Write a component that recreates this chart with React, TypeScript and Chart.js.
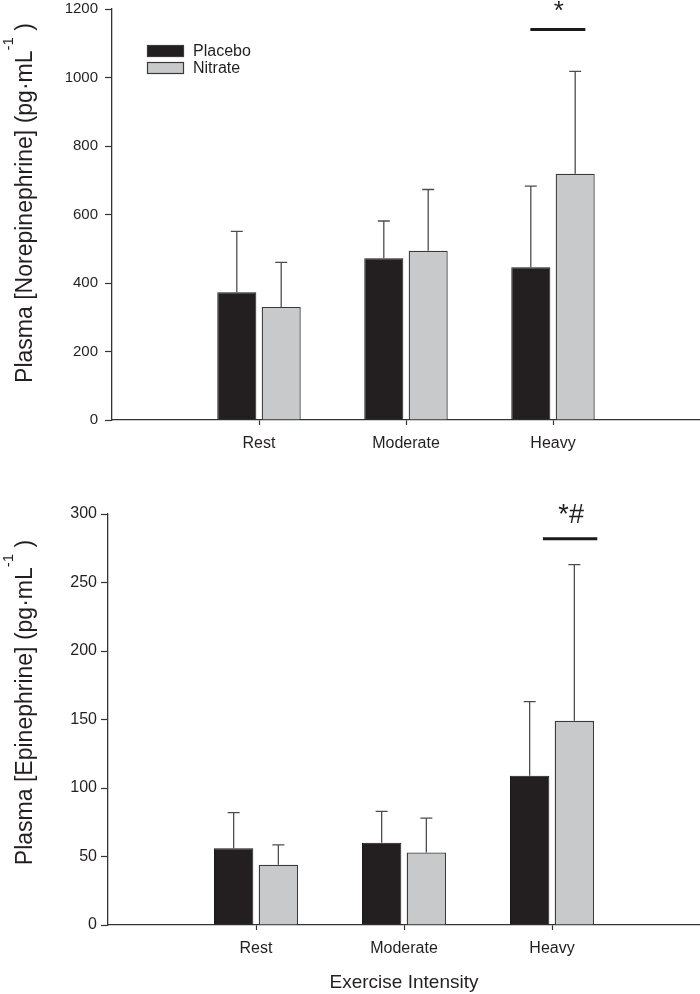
import React, { useEffect, useRef } from 'react';
import { Chart, registerables } from 'chart.js';

Chart.register(...registerables);

// ---------- data ----------
const categories = ['', 'Rest', 'Moderate', 'Heavy', ''];
const seriesNames = ['Placebo', 'Nitrate'];

const norepiPlacebo = [373, 472, 446];
const norepiPlaceboSD = [178, 109, 237];
const norepiNitrate = [330, 494, 719];
const norepiNitrateSD = [130, 179, 299];
const norepiTicks = [0, 200, 400, 600, 800, 1000, 1200];

const epiPlacebo = [56, 60, 109];
const epiPlaceboSD = [26, 23, 54];
const epiNitrate = [44, 53, 149];
const epiNitrateSD = [14.5, 25, 114];
const epiTicks = [0, 50, 100, 150, 200, 250, 300];

const FONT = "'Liberation Sans', Arial, Helvetica, sans-serif";
const TEXT = '#231f20';
const AXIS = '#333333';
const PLACEBO_COLOR = '#231f20';
const NITRATE_COLOR = '#c8c9cb';

const pad = (arr: (number | null)[]) => [null, ...arr, null];

// ---------- plugins ----------
const errorBarPlugin = {
  id: 'errorBars',
  afterDatasetsDraw(chart: any) {
    const { ctx } = chart;
    const yScale = chart.scales.y;
    chart.data.datasets.forEach((ds: any, di: number) => {
      const meta = chart.getDatasetMeta(di);
      if (!ds.errors) return;
      meta.data.forEach((bar: any, i: number) => {
        const v = ds.data[i];
        const e = ds.errors[i];
        if (v == null || e == null) return;
        const x = bar.x;
        const yTop = yScale.getPixelForValue(v + e);
        ctx.save();
        ctx.strokeStyle = '#4d4d4d';
        ctx.lineWidth = 1.3;
        ctx.beginPath();
        ctx.moveTo(x, bar.y);
        ctx.lineTo(x, yTop);
        ctx.moveTo(x - 6, yTop);
        ctx.lineTo(x + 6, yTop);
        ctx.stroke();
        ctx.restore();
      });
    });
  },
};

const legendPlugin = {
  id: 'boxLegend',
  afterDraw(chart: any, _args: any, opts: any) {
    if (!opts || !opts.show) return;
    const { ctx } = chart;
    ctx.save();
    chart.data.datasets.forEach((ds: any, i: number) => {
      const y = opts.y + i * opts.step;
      ctx.fillStyle = ds.backgroundColor;
      ctx.fillRect(opts.x, y, opts.boxW, opts.boxH);
      ctx.strokeStyle = '#3a3a3a';
      ctx.lineWidth = 1.2;
      ctx.strokeRect(opts.x + 0.5, y + 0.5, opts.boxW - 1, opts.boxH - 1);
      ctx.fillStyle = TEXT;
      ctx.font = `${opts.size}px ${FONT}`;
      ctx.textBaseline = 'middle';
      ctx.textAlign = 'left';
      ctx.fillText(ds.label, opts.x + opts.boxW + opts.textGap, y + opts.boxH / 2 + 1);
    });
    ctx.restore();
  },
};

const yTitlePlugin = {
  id: 'yTitleSup',
  afterDraw(chart: any, _args: any, opts: any) {
    if (!opts || !opts.main) return;
    const { ctx, chartArea } = chart;
    ctx.save();
    const mainFont = `${opts.size}px ${FONT}`;
    const supFont = `${opts.supSize}px ${FONT}`;
    ctx.font = mainFont;
    const w1 = ctx.measureText(opts.main).width;
    const w3 = ctx.measureText(opts.tail).width;
    ctx.font = supFont;
    const w2 = ctx.measureText(opts.sup).width;
    const total = w1 + w2 + w3;
    const cy = (chartArea.top + chartArea.bottom) / 2 + opts.shift;
    ctx.translate(opts.x, cy);
    ctx.rotate(-Math.PI / 2);
    ctx.fillStyle = TEXT;
    ctx.textAlign = 'left';
    ctx.textBaseline = 'alphabetic';
    let x = -total / 2;
    ctx.font = mainFont;
    ctx.fillText(opts.main, x, 0);
    x += w1;
    ctx.font = supFont;
    ctx.fillText(opts.sup, x, -opts.raise);
    x += w2;
    ctx.font = mainFont;
    ctx.fillText(opts.tail, x, 0);
    ctx.restore();
  },
};

const sigPlugin = {
  id: 'sigMark',
  afterDraw(chart: any, _args: any, opts: any) {
    if (!opts || opts.value == null) return;
    const { ctx } = chart;
    const xs = chart.scales.x;
    const ys = chart.scales.y;
    const unit = xs.getPixelForValue(1) - xs.getPixelForValue(0);
    const cx = xs.getPixelForValue(opts.index);
    const x0 = cx + opts.from * unit;
    const x1 = cx + opts.to * unit;
    const y = ys.getPixelForValue(opts.value);
    ctx.save();
    ctx.strokeStyle = '#1a1a1a';
    ctx.lineWidth = 3;
    ctx.beginPath();
    ctx.moveTo(x0, y);
    ctx.lineTo(x1, y);
    ctx.stroke();
    ctx.fillStyle = TEXT;
    ctx.font = `${opts.size}px ${FONT}`;
    ctx.textAlign = 'center';
    ctx.textBaseline = 'alphabetic';
    ctx.fillText(opts.text, (x0 + x1) / 2 + (opts.dx || 0), y - opts.gap);
    ctx.restore();
  },
};

// ---------- config ----------
function makeConfig(p: any) {
  return {
    type: 'bar',
    data: {
      labels: categories,
      datasets: [
        {
          label: seriesNames[0],
          data: pad(p.placebo),
          errors: pad(p.placeboSD),
          backgroundColor: PLACEBO_COLOR,
          borderColor: '#1a1a1a',
          borderWidth: 1,
          categoryPercentage: 0.604,
          barPercentage: 0.88,
        },
        {
          label: seriesNames[1],
          data: pad(p.nitrate),
          errors: pad(p.nitrateSD),
          backgroundColor: NITRATE_COLOR,
          borderColor: '#3a3a3a',
          borderWidth: 1.3,
          categoryPercentage: 0.604,
          barPercentage: 0.88,
        },
      ],
    },
    options: {
      responsive: false,
      maintainAspectRatio: false,
      animation: false,
      layout: { padding: { left: 0, right: 0, top: p.top, bottom: 0 } },
      plugins: {
        legend: { display: false },
        tooltip: { enabled: false },
        title: { display: false },
        boxLegend: p.legend,
        yTitleSup: p.yTitle,
        sigMark: p.sig,
      },
      scales: {
        x: {
          type: 'category',
          offset: false,
          grid: {
            offset: false,
            drawOnChartArea: false,
            drawTicks: true,
            tickLength: 5,
            tickWidth: 1.2,
            tickColor: (c: any) => (c.index === 0 || c.index === categories.length - 1 ? 'rgba(0,0,0,0)' : AXIS),
          },
          border: { display: true, color: AXIS, width: 1.3 },
          ticks: {
            color: TEXT,
            font: { family: FONT, size: 16 },
            padding: 9,
            maxRotation: 0,
            autoSkip: false,
          },
          title: p.xTitle
            ? {
                display: true,
                text: p.xTitle,
                color: TEXT,
                font: { family: FONT, size: 19 },
                padding: { top: 0, bottom: 0 },
              }
            : { display: false },
          afterFit: (s: any) => {
            s.height = p.xHeight;
            s.paddingLeft = 0;
            s.paddingRight = 0;
          },
        },
        y: {
          min: 0,
          max: p.ticks[p.ticks.length - 1],
          grid: {
            drawOnChartArea: false,
            drawTicks: true,
            tickLength: 7,
            tickWidth: 1.2,
            tickColor: AXIS,
          },
          border: { display: true, color: AXIS, width: 1.3 },
          ticks: {
            color: TEXT,
            font: { family: FONT, size: p.yTickSize },
            padding: p.yTickPad,
            callback: (v: any) => String(v),
          },
          afterBuildTicks: (s: any) => {
            s.ticks = p.ticks.map((v: number) => ({ value: v }));
          },
          afterFit: (s: any) => {
            s.width = p.yWidth;
            s.paddingTop = 0;
            s.paddingBottom = 0;
          },
        },
      },
    },
    plugins: [errorBarPlugin, legendPlugin, yTitlePlugin, sigPlugin],
  };
}

function ChartPanel({ width, height, params }: { width: number; height: number; params: any }) {
  const ref = useRef<HTMLCanvasElement | null>(null);
  useEffect(() => {
    if (!ref.current) return;
    const chart = new Chart(ref.current, makeConfig(params) as any);
    return () => chart.destroy();
  }, []);
  return <canvas ref={ref} width={width} height={height} style={{ display: 'block', width, height }} />;
}

const topParams = {
  placebo: norepiPlacebo,
  placeboSD: norepiPlaceboSD,
  nitrate: norepiNitrate,
  nitrateSD: norepiNitrateSD,
  ticks: norepiTicks,
  top: 9,
  xHeight: 50,
  yWidth: 112,
  yTickSize: 15,
  yTickPad: 7,
  legend: { show: true, x: 147, y: 45, step: 17, boxW: 37, boxH: 12, textGap: 9, size: 16 },
  yTitle: {
    main: 'Plasma [Norepinephrine] (pg·mL',
    sup: '-1',
    tail: ' )',
    size: 23,
    supSize: 15,
    raise: 19,
    x: 32,
    shift: -11.5,
  },
  sig: { index: 3, from: -0.154, to: 0.22, value: 1140, text: '*', size: 26, gap: 11, dx: 1 },
};

const bottomParams = {
  placebo: epiPlacebo,
  placeboSD: epiPlaceboSD,
  nitrate: epiNitrate,
  nitrateSD: epiNitrateSD,
  ticks: epiTicks,
  top: 44,
  xHeight: 69,
  yWidth: 108,
  yTickSize: 16,
  yTickPad: 4,
  xTitle: 'Exercise Intensity',
  legend: { show: false },
  yTitle: {
    main: 'Plasma [Epinephrine] (pg·mL',
    sup: '-1',
    tail: ' )',
    size: 23,
    supSize: 15,
    raise: 19,
    x: 32,
    shift: -17,
  },
  sig: { index: 3, from: -0.061, to: 0.306, value: 282, text: '*#', size: 27, gap: 15.5, dx: 1 },
};

export default function App() {
  return (
    <div style={{ position: 'absolute', left: 0, top: 0, width: 700, height: 994, background: '#ffffff' }}>
      <ChartPanel width={700} height={470} params={topParams} />
      <ChartPanel width={700} height={524} params={bottomParams} />
    </div>
  );
}
